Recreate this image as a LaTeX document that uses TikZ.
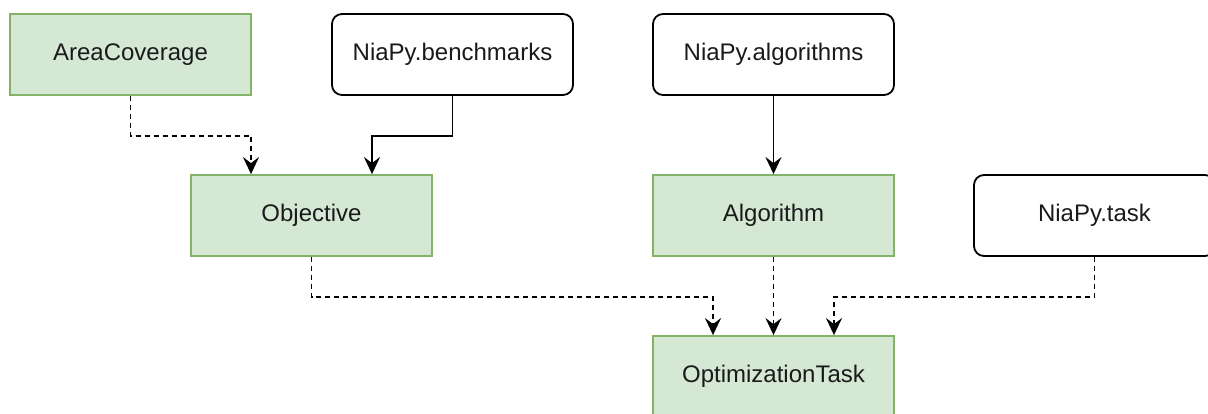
\documentclass[tikz,border=0pt]{standalone}
\usepackage{fontspec}
\setmainfont{Liberation Sans}
\usetikzlibrary{arrows.meta,positioning}
\definecolor{gfill}{HTML}{D5E8D4}
\definecolor{gline}{HTML}{82B366}
\definecolor{txt}{HTML}{1A1A1A}
\begin{document}
\begin{tikzpicture}[x=1pt,y=-1pt,
  box/.style={rectangle, minimum width=241pt, minimum height=81pt, inner sep=0pt,
    line width=1.8pt, font=\fontsize{24}{28}\selectfont, text=txt},
  greenbox/.style={box, draw=gline, fill=gfill},
  libbox/.style={box, draw=black, fill=white, rounded corners=10pt},
  conn/.style={line width=1.9pt, -{Stealth[length=17pt,width=16pt,inset=6pt]}},
  dconn/.style={conn, dash pattern=on 5pt off 4pt}]
\useasboundingbox (0,0) rectangle (1208,414);
\node[greenbox] (ac) at (130.5,54.5) {AreaCoverage};
\node[libbox] (nb) at (452.5,54.5) {NiaPy.benchmarks};
\node[libbox] (na) at (773.5,54.5) {NiaPy.algorithms};
\node[greenbox] (obj) at (311.5,215.5) {Objective};
\node[greenbox] (alg) at (773.5,215.5) {Algorithm};
\node[libbox] (nt) at (1094.5,215.5) {NiaPy.task};
\node[greenbox] (ot) at (773.5,376.5) {OptimizationTask};
\draw[dconn] (ac.south) -- ++(0,40) -| ([xshift=-60.5pt]obj.north);
\draw[conn] (nb.south) -- ++(0,40) -| ([xshift=60.5pt]obj.north);
\draw[conn] (na.south) -- (alg.north);
\draw[dconn] (obj.south) -- ++(0,40.5) -| ([xshift=-60.5pt]ot.north);
\draw[dconn] (alg.south) -- (ot.north);
\draw[dconn] (nt.south) -- ++(0,40.5) -| ([xshift=60.5pt]ot.north);
\end{tikzpicture}
\end{document}
